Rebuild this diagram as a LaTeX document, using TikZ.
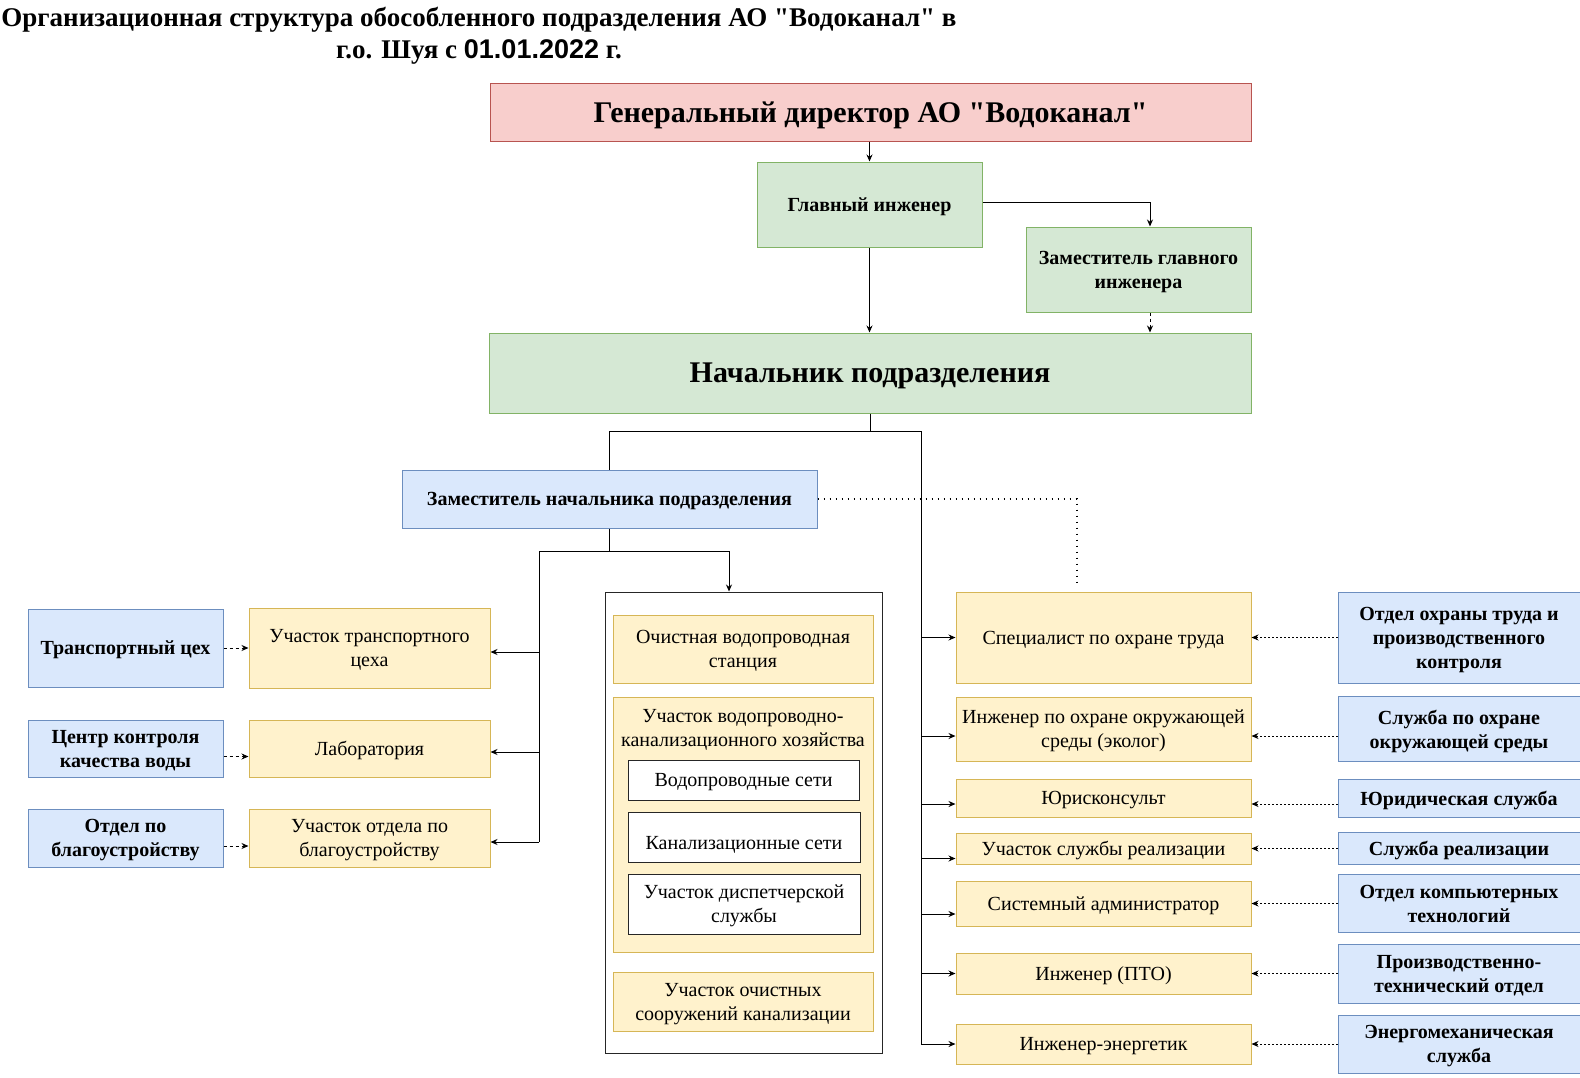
\documentclass[tikz,border=0pt]{standalone}
\usepackage{fontspec}
\setmainfont{Liberation Serif}[Ligatures=TeXOff]
\newfontfamily\datefont{Liberation Sans}
\usetikzlibrary{arrows.meta, positioning, calc}
\definecolor{redfill}{HTML}{F8CECC}
\definecolor{redline}{HTML}{B85450}
\definecolor{greenfill}{HTML}{D5E8D4}
\definecolor{greenline}{HTML}{82B366}
\definecolor{bluefill}{HTML}{DAE8FC}
\definecolor{blueline}{HTML}{6C8EBF}
\definecolor{yellowfill}{HTML}{FFF2CC}
\definecolor{yellowline}{HTML}{D6B656}

\begin{document}
\begin{tikzpicture}[x=1pt, y=-1pt, node distance=25pt and 25pt]
    \tikzstyle{box}=[rectangle, inner sep=2pt, align=center, line width=1pt, text depth=-2pt]
    \tikzstyle{bigfont}=[font=\bfseries\fontsize{30}{36}\selectfont]
    \tikzstyle{boldfont}=[font=\bfseries\fontsize{20}{24}\selectfont]
    \tikzstyle{plainfont}=[font=\fontsize{20}{24}\selectfont]
    \tikzstyle{rbox}=[box, bigfont, fill=redfill, draw=redline]
    \tikzstyle{gbox}=[box, boldfont, fill=greenfill, draw=greenline]
    \tikzstyle{bbox}=[box, boldfont, fill=bluefill, draw=blueline]
    \tikzstyle{ybox}=[box, plainfont, fill=yellowfill, draw=yellowline]
    \tikzstyle{wbox}=[box, plainfont, fill=white, draw=black!85]
    \tikzstyle{ln}=[line width=1pt]
    \tikzstyle{arr}=[-{Stealth[length=7pt, width=6pt]}, line width=1pt]
    \tikzstyle{darr}=[arr, dash pattern=on 3pt off 3pt]
    \tikzstyle{dotarr}=[arr, dash pattern=on 2pt off 2pt]
    \tikzstyle{dotln}=[line width=1.3pt, dash pattern=on 1.5pt off 4.5pt]

    \useasboundingbox (0,0) rectangle (1580,1077);

    % title
    \node[align=center, font=\bfseries\fontsize{27}{32}\selectfont] (title) at (479,36)
        {Организационная структура обособленного подразделения АО "Водоканал" в\\
         г.о. Шуя с {\datefont 01.01.2022} г.};

    % top of the structure
    \node[rbox, minimum width=761pt, minimum height=58pt] (gen) at (870.5,112)
        {Генеральный директор АО "Водоканал"};
    \node[gbox, minimum width=225pt, minimum height=85pt] (chief) at (869.5,204.5)
        {Главный инженер};
    \node[gbox, minimum width=225pt, minimum height=85pt] (dchief) at (1138.5,269.5)
        {Заместитель главного\\инженера};
    \node[gbox, bigfont, minimum width=762pt, minimum height=80pt] (head) at (870,373)
        {Начальник подразделения};
    \node[bbox, minimum width=415pt, minimum height=58pt] (dhead) at (609.5,499)
        {Заместитель начальника подразделения};

    % left group
    \node[ybox, minimum width=241pt, minimum height=80pt] (utc) at (369.5,648)
        {Участок транспортного\\цеха};
    \node[ybox, minimum width=241pt, minimum height=57pt] (lab) at (369.5,748.5)
        {Лаборатория};
    \node[ybox, minimum width=241pt, minimum height=58pt] (uob) at (369.5,838)
        {Участок отдела по\\благоустройству};
    \node[bbox, minimum width=195pt, minimum height=78pt, left=of utc] (trk)
        {Транспортный цех};
    \node[bbox, minimum width=195pt, minimum height=57pt, left=of lab] (ckk)
        {Центр контроля\\качества воды};
    \node[bbox, minimum width=195pt, minimum height=58pt, left=of uob] (otb)
        {Отдел по\\благоустройству};

    % middle frame
    \node[draw=black!85, line width=1pt, minimum width=277pt, minimum height=461pt,
          inner sep=0pt] (frm) at (743.5,822.5) {};
    \node[ybox, minimum width=260pt, minimum height=68pt] (ows) at (743,649)
        {Очистная водопроводная\\станция};
    \node[ybox, minimum width=260pt, minimum height=255pt,
          label={[plainfont, align=center, anchor=north, yshift=-9pt]north:Участок водопроводно-\\канализационного хозяйства}]
          (vkh) at (743,824.5) {};
    \node[wbox, minimum width=231pt, minimum height=40pt] (vs) at (743.5,780)
        {Водопроводные сети};
    \node[wbox, minimum width=232pt, minimum height=50pt,
          label={[plainfont, yshift=-8pt]center:Канализационные сети}] (ks) at (744,837) {};
    \node[wbox, minimum width=232pt, minimum height=60pt] (dsp) at (744,904)
        {Участок диспетчерской\\службы};
    \node[ybox, minimum width=260pt, minimum height=59pt] (osk) at (743,1001.5)
        {Участок очистных\\сооружений канализации};

    % right group
    \node[ybox, minimum width=295pt, minimum height=91pt] (spec) at (1103.5,637.5)
        {Специалист по охране труда};
    \node[ybox, minimum width=295pt, minimum height=64pt] (eco) at (1103.5,729)
        {Инженер по охране окружающей\\среды (эколог)};
    \node[ybox, minimum width=295pt, minimum height=38pt] (yur) at (1103.5,798)
        {Юрисконсульт};
    \node[ybox, minimum width=295pt, minimum height=31pt] (real) at (1103.5,848.5)
        {Участок службы реализации};
    \node[ybox, minimum width=295pt, minimum height=45pt] (sys) at (1103.5,903.5)
        {Системный администратор};
    \node[ybox, minimum width=295pt, minimum height=41pt] (pto) at (1103.5,973.5)
        {Инженер (ПТО)};
    \node[ybox, minimum width=295pt, minimum height=40pt] (ener) at (1103.5,1044)
        {Инженер-энергетик};

    \node[bbox, minimum width=242pt, minimum height=91pt, right=86pt of spec] (otp)
        {Отдел охраны труда и\\производственного\\контроля};
    \node[bbox, minimum width=242pt, minimum height=65pt, right=86pt of eco] (soo)
        {Служба по охране\\окружающей среды};
    \node[bbox, minimum width=242pt, minimum height=38pt, right=86pt of yur] (yus)
        {Юридическая служба};
    \node[bbox, minimum width=242pt, minimum height=32pt, right=86pt of real] (sr)
        {Служба реализации};
    \node[bbox, minimum width=242pt, minimum height=58pt, right=86pt of sys] (okt)
        {Отдел компьютерных\\технологий};
    \node[bbox, minimum width=242pt, minimum height=59pt, right=86pt of pto] (ptd)
        {Производственно-\\технический отдел};
    \node[bbox, minimum width=242pt, minimum height=58pt, right=86pt of ener] (ems)
        {Энергомеханическая\\служба};

    % connectors, top
    \draw[arr] (chief.north |- gen.south) -- (chief.north);
    \draw[arr] ([yshift=2pt]chief.east) -| ([xshift=11.5pt]dchief.north);
    \draw[arr] (chief.south) -- (chief.south |- head.north);
    \draw[darr] ([xshift=11.5pt]dchief.south) -- ([xshift=11.5pt]dchief.south |- head.north);

    \coordinate (rb) at (921,431);
    \draw[ln] (head.south) -- (head.south |- rb);
    \draw[ln] (dhead.north) |- (rb) -- (rb |- ener.west);

    % connectors, left
    \coordinate (lb) at (539,551);
    \coordinate (fj) at (729,551);
    \draw[ln] (dhead.south) -- (dhead.south |- lb);
    \draw[arr] (lb) -- (fj) -- (fj |- frm.north);
    \draw[ln] (lb) -- ([yshift=-4pt]uob.east -| lb);
    \draw[arr] ([yshift=-4pt]utc.east -| lb) -- ([yshift=-4pt]utc.east);
    \draw[arr] ([yshift=-3.5pt]lab.east -| lb) -- ([yshift=-3.5pt]lab.east);
    \draw[arr] ([yshift=-4pt]uob.east -| lb) -- ([yshift=-4pt]uob.east);
    \draw[darr] (trk.east) -- (utc.west);
    \draw[darr] ([yshift=-8pt]ckk.east) -- ([yshift=-8pt]ckk.east -| lab.west);
    \draw[darr] ([yshift=-8pt]otb.east) -- ([yshift=-8pt]otb.east -| uob.west);

    % connectors, right
    \draw[arr] (rb |- spec.west) -- (spec.west);
    \draw[arr] ([yshift=-7pt]eco.west -| rb) -- ([yshift=-7pt]eco.west);
    \draw[arr] ([yshift=-6pt]yur.west -| rb) -- ([yshift=-6pt]yur.west);
    \draw[arr] ([yshift=-10pt]real.west -| rb) -- ([yshift=-10pt]real.west);
    \draw[arr] ([yshift=-10.5pt]sys.west -| rb) -- ([yshift=-10.5pt]sys.west);
    \draw[arr] (rb |- pto.west) -- (pto.west);
    \draw[arr] (rb |- ener.west) -- (ener.west);

    \draw[dotarr] (otp.west) -- (spec.east);
    \draw[dotarr] ([yshift=-7pt]soo.west) -- ([yshift=-7pt]soo.west -| eco.east);
    \draw[dotarr] ([yshift=-6pt]yus.west) -- ([yshift=-6pt]yus.west -| yur.east);
    \draw[dotarr] (sr.west) -- (real.east);
    \draw[dotarr] (okt.west) -- (sys.east);
    \draw[dotarr] (ptd.west) -- (pto.east);
    \draw[dotarr] (ems.west) -- (ener.east);

    \coordinate (sj) at (1077,587);
    \draw[dotln] (dhead.east) -| (sj);
\end{tikzpicture}
\end{document}
